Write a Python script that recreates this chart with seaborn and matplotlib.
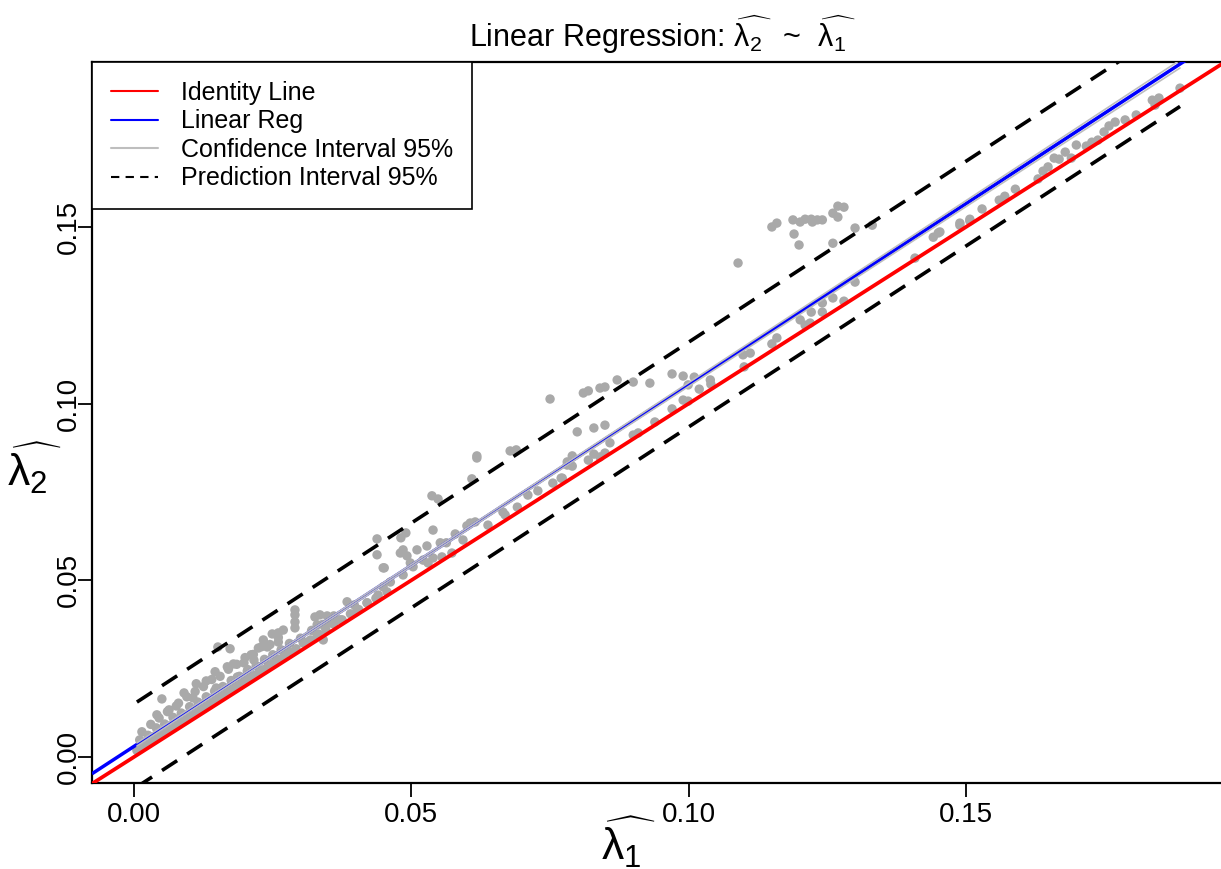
import numpy as np
import pandas as pd
import matplotlib
matplotlib.use("Agg")
import matplotlib.pyplot as plt
from matplotlib.lines import Line2D
import seaborn as sns

# ---------------- data ----------------
# dense band close to the identity line
lam1_band = [0.0005, 0.0012, 0.0020, 0.0028, 0.0035, 0.0042, 0.0050, 0.0058, 0.0066, 0.0074,
             0.0082, 0.0090, 0.0098, 0.0106, 0.0114, 0.0122, 0.0130, 0.0138, 0.0146, 0.0154,
             0.0162, 0.0170, 0.0178, 0.0186, 0.0194, 0.0202, 0.0210, 0.0218, 0.0226, 0.0234,
             0.0242, 0.0250, 0.0260, 0.0270, 0.0280, 0.0292, 0.0305, 0.0318, 0.0332, 0.0346,
             0.0360, 0.0375, 0.0390, 0.0405, 0.0420, 0.0436]
lam2_band = [0.0018, 0.0025, 0.0036, 0.0041, 0.0052, 0.0055, 0.0066, 0.0072, 0.0083, 0.0088,
             0.0099, 0.0104, 0.0115, 0.0121, 0.0130, 0.0137, 0.0147, 0.0152, 0.0163, 0.0168,
             0.0179, 0.0184, 0.0195, 0.0200, 0.0211, 0.0216, 0.0227, 0.0231, 0.0243, 0.0247,
             0.0259, 0.0264, 0.0276, 0.0284, 0.0297, 0.0306, 0.0322, 0.0331, 0.0348, 0.0358,
             0.0376, 0.0388, 0.0405, 0.0417, 0.0436, 0.0449]

# cloud slightly above the band (low values)
lam1_low = [0.0010, 0.0025, 0.0040, 0.0055, 0.0070, 0.0085, 0.0100, 0.0115, 0.0130, 0.0145,
            0.0160, 0.0175, 0.0190, 0.0205, 0.0220, 0.0235, 0.0250, 0.0265, 0.0280, 0.0300,
            0.0320, 0.0340, 0.0360,
            0.0030, 0.0045, 0.0060, 0.0080, 0.0095, 0.0110, 0.0125, 0.0140, 0.0155, 0.0170,
            0.0185, 0.0200, 0.0215, 0.0230, 0.0245, 0.0260,
            0.0173, 0.0151, 0.0211, 0.0050, 0.0014, 0.0041, 0.0063, 0.0090, 0.0112, 0.0130,
            0.0146, 0.0168, 0.0179, 0.0198, 0.0216, 0.0076, 0.0106, 0.0148, 0.0186, 0.0204,
            0.0290, 0.0290, 0.0290, 0.0290, 0.0326, 0.0335, 0.0348, 0.0330, 0.0344, 0.0353,
            0.0371, 0.0269, 0.0260, 0.0249, 0.0233, 0.0260, 0.0224, 0.0240, 0.0312, 0.0330,
            0.0341, 0.0384, 0.0397, 0.0402, 0.0420, 0.0440, 0.0456, 0.0451]
lam2_low = [0.0048, 0.0061, 0.0082, 0.0093, 0.0112, 0.0124, 0.0142, 0.0155, 0.0170, 0.0186,
            0.0199, 0.0216, 0.0228, 0.0247, 0.0258, 0.0276, 0.0289, 0.0303, 0.0321, 0.0336,
            0.0358, 0.0375, 0.0399,
            0.0092, 0.0110, 0.0128, 0.0152, 0.0170, 0.0185, 0.0199, 0.0219, 0.0228, 0.0248,
            0.0262, 0.0281, 0.0290, 0.0312, 0.0318, 0.0338,
            0.0306, 0.0311, 0.0289, 0.0164, 0.0071, 0.0119, 0.0133, 0.0181, 0.0207, 0.0215,
            0.0241, 0.0255, 0.0263, 0.0266, 0.0274, 0.0144, 0.0167, 0.0195, 0.0226, 0.0243,
            0.0416, 0.0402, 0.0382, 0.0365, 0.0396, 0.0402, 0.0399, 0.0374, 0.0368, 0.0379,
            0.0388, 0.0359, 0.0351, 0.0348, 0.0331, 0.0325, 0.0308, 0.0311, 0.0325, 0.0345,
            0.0331, 0.0439, 0.0430, 0.0416, 0.0436, 0.0458, 0.0467, 0.0535]

# middle range
lam1_mid = [0.0618, 0.0618, 0.0678, 0.0689, 0.0609, 0.0537, 0.0548, 0.0438, 0.0481, 0.0490,
            0.0539, 0.0438, 0.0449, 0.0480, 0.0485, 0.0492, 0.0510, 0.0528, 0.0552, 0.0563,
            0.0579, 0.0600, 0.0606, 0.0615, 0.0638, 0.0665, 0.0669, 0.0691, 0.0710, 0.0728,
            0.0755, 0.0772, 0.0781, 0.0498, 0.0521, 0.0530, 0.0539, 0.0555, 0.0573, 0.0593,
            0.0485, 0.0503, 0.0462, 0.0449,
            0.0750, 0.0810, 0.0819, 0.0840, 0.0849, 0.0871, 0.0900, 0.0930, 0.0970, 0.0990,
            0.1010, 0.0999, 0.1019, 0.1039, 0.1040, 0.1100, 0.0799, 0.0829, 0.0849, 0.0858,
            0.0900, 0.0909, 0.0939, 0.0970, 0.0990, 0.0999, 0.0770, 0.0781, 0.0790, 0.0790,
            0.0819, 0.0829, 0.0840, 0.0849]
lam2_mid = [0.0846, 0.0852, 0.0866, 0.0869, 0.0787, 0.0739, 0.0730, 0.0617, 0.0620, 0.0634,
            0.0642, 0.0572, 0.0535, 0.0577, 0.0586, 0.0569, 0.0586, 0.0597, 0.0606, 0.0606,
            0.0631, 0.0654, 0.0662, 0.0665, 0.0656, 0.0693, 0.0685, 0.0707, 0.0741, 0.0753,
            0.0775, 0.0789, 0.0826, 0.0549, 0.0557, 0.0549, 0.0563, 0.0566, 0.0577, 0.0614,
            0.0515, 0.0538, 0.0495, 0.0481,
            0.1013, 0.1030, 0.1036, 0.1044, 0.1047, 0.1067, 0.1061, 0.1058, 0.1084, 0.1078,
            0.1075, 0.1053, 0.1041, 0.1067, 0.1055, 0.1104, 0.0920, 0.0931, 0.0939, 0.0889,
            0.0911, 0.0917, 0.0948, 0.0985, 0.1010, 0.1007, 0.0789, 0.0835, 0.0852, 0.0823,
            0.0840, 0.0857, 0.0849, 0.0860]

# high range
lam1_high = [0.1150, 0.1159, 0.1188, 0.1201, 0.1210, 0.1221, 0.1223, 0.1232, 0.1241, 0.1260,
             0.1269, 0.1280, 0.1269, 0.1190, 0.1199, 0.1300, 0.1260, 0.1331, 0.1089,
             0.1098, 0.1111, 0.1150, 0.1159, 0.1201, 0.1210, 0.1219, 0.1241, 0.1221, 0.1241,
             0.1260, 0.1280, 0.1300, 0.1408, 0.1441, 0.1450, 0.1489, 0.1507,
             0.1453, 0.1489, 0.1507, 0.1529, 0.1560, 0.1570, 0.1589, 0.1630, 0.1639, 0.1648,
             0.1659, 0.1668, 0.1679, 0.1690, 0.1699, 0.1717, 0.1727, 0.1738, 0.1749, 0.1758,
             0.1769, 0.1787, 0.1807, 0.1836, 0.1848, 0.1841, 0.1886]
lam2_high = [0.1500, 0.1511, 0.1520, 0.1514, 0.1522, 0.1522, 0.1514, 0.1520, 0.1520, 0.1539,
             0.1559, 0.1556, 0.1528, 0.1480, 0.1449, 0.1497, 0.1454, 0.1505, 0.1398,
             0.1138, 0.1143, 0.1169, 0.1186, 0.1237, 0.1222, 0.1228, 0.1259, 0.1259, 0.1285,
             0.1299, 0.1290, 0.1344, 0.1412, 0.1471, 0.1483, 0.1505, 0.1517,
             0.1486, 0.1511, 0.1522, 0.1551, 0.1576, 0.1587, 0.1607, 0.1636, 0.1658, 0.1670,
             0.1695, 0.1692, 0.1712, 0.1695, 0.1732, 0.1729, 0.1740, 0.1746, 0.1769, 0.1786,
             0.1797, 0.1803, 0.1817, 0.1859, 0.1865, 0.1845, 0.1893]

# fitted line and interval parameters
reg_intercept = 0.0030
reg_slope = 1.024
pi_half_width = 0.0120
ci_half_min = 0.0003
ci_spread = 0.0075
x_center = 0.045

title_text = r"Linear Regression: $\widehat{\mathrm{\lambda}_2\,}$  ~  $\widehat{\mathrm{\lambda}_1\,}$"
xlabel_text = r"$\widehat{\mathrm{\lambda}_1\,}$"
ylabel_text = r"$\widehat{\mathrm{\lambda}_2\,}$"
tick_vals = [0.00, 0.05, 0.10, 0.15]
tick_labels = ["0.00", "0.05", "0.10", "0.15"]
legend_labels = ["Identity Line", "Linear Reg", "Confidence Interval 95%", "Prediction Interval 95%"]

# ---------------- style ----------------
sns.set_style("white")
plt.rcParams["font.family"] = ["Liberation Sans", "DejaVu Sans"]
plt.rcParams["mathtext.fontset"] = "custom"
plt.rcParams["mathtext.rm"] = "Liberation Sans"
plt.rcParams["mathtext.it"] = "Liberation Sans:italic"
plt.rcParams["mathtext.bf"] = "Liberation Sans:bold"
plt.rcParams["text.color"] = "black"
plt.rcParams["axes.labelcolor"] = "black"
plt.rcParams["xtick.color"] = "black"
plt.rcParams["ytick.color"] = "black"

df = pd.DataFrame({
    "lam1": lam1_band + lam1_low + lam1_mid + lam1_high,
    "lam2": lam2_band + lam2_low + lam2_mid + lam2_high,
})

W, H = 1221, 869
fig = plt.figure(figsize=(W / 100, H / 100), dpi=100)
ax = fig.add_axes([92 / W, 1 - 783 / H, (1225.5 - 92) / W, (783 - 62) / H])

xlim = (-0.0076, 0.1968)
ylim = (-0.0074, 0.1967)

sns.scatterplot(data=df, x="lam1", y="lam2", color="#A9A9A9", s=46,
                edgecolor="none", linewidth=0, ax=ax, zorder=2, legend=False)

xl = np.array(xlim)
ax.plot(xl, xl, color="red", lw=2.7, zorder=3, solid_capstyle="butt")
ax.plot(xl, reg_intercept + reg_slope * xl, color="blue", lw=2.5, zorder=4, solid_capstyle="butt")

xs = np.linspace(df["lam1"].min(), df["lam1"].max(), 200)
fit = reg_intercept + reg_slope * xs
ci_half = np.sqrt(ci_half_min ** 2 + ci_spread ** 2 * (xs - x_center) ** 2)
ax.plot(xs, fit + ci_half, color="#BEBEBE", lw=1.2, zorder=5)
ax.plot(xs, fit - ci_half, color="#BEBEBE", lw=1.2, zorder=5)
ax.plot(xs, fit + pi_half_width, color="black", lw=2.6, ls=(0, (5, 3.3)), zorder=6)
ax.plot(xs, fit - pi_half_width, color="black", lw=2.6, ls=(0, (5, 3.3)), zorder=6)

ax.set_xlim(*xlim)
ax.set_ylim(*ylim)
ax.set_xticks(tick_vals)
ax.set_xticklabels(tick_labels)
ax.set_yticks(tick_vals)
ax.set_yticklabels(tick_labels, rotation=90, va="center")
ax.tick_params(axis="both", which="major", direction="out", length=10, width=1.3,
               colors="black", labelsize=20, bottom=True, left=True, top=False, right=False)
ax.tick_params(axis="x", pad=4)
ax.tick_params(axis="y", pad=-3)
for side in ["left", "bottom", "top"]:
    ax.spines[side].set_color("black")
    ax.spines[side].set_linewidth(1.6)
ax.spines["right"].set_visible(False)
ax.set_xlabel("")
ax.set_ylabel("")

ax.set_title(title_text, fontsize=22, pad=11, x=(663 - 92) / (1225.5 - 92))
fig.text(629 / W, 1 - 842 / H, xlabel_text, fontsize=32, ha="center", va="center")
fig.text(35 / W, 1 - 468 / H, ylabel_text, fontsize=32, ha="center", va="center")

handles = [
    Line2D([], [], color="red", lw=1.5),
    Line2D([], [], color="blue", lw=1.5),
    Line2D([], [], color="#BEBEBE", lw=1.5),
    Line2D([], [], color="black", lw=1.5, ls=(0, (4, 3))),
]
leg = ax.legend(handles, legend_labels, loc="upper left", bbox_to_anchor=(0, 1),
                borderaxespad=0, fontsize=18, handlelength=1.9, handletextpad=0.9,
                labelspacing=0.18, borderpad=0.75, frameon=True, fancybox=False,
                framealpha=1, edgecolor="black")
leg.get_frame().set_linewidth(1.2)
leg.set_zorder(10)

fig.savefig("out.png", dpi=100)
